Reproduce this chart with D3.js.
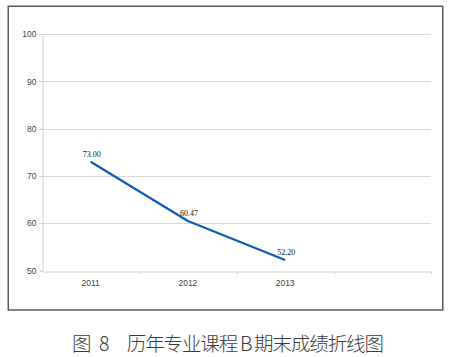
<!DOCTYPE html>
<html><head><meta charset="utf-8">
<script src="https://cdn.jsdelivr.net/npm/d3@7"></script>
<style>
html,body{margin:0;padding:0;background:#fff;}
svg{display:block;}
</style>
</head><body>
<svg id="chart" width="450" height="357"></svg>
<script>
const categories = ["2011", "2012", "2013", ""];
const scores = [73.00, 60.47, 52.20];
const yTicks = [50, 60, 70, 80, 90, 100];
const titleText = "图\u20028\u3000历年专业课程\u2009B\u2009期末成绩折线图";

const svg = d3.select("#chart");
const margin = {left: 42, right: 431, top: 34, bottom: 270.5};

// outer frame
svg.append("rect")
  .attr("x", 8.25).attr("y", 6.25).attr("width", 434.5).attr("height", 303.75)
  .attr("fill", "none").attr("stroke", "#5a5a5a").attr("stroke-width", 1.5);

const x = d3.scaleBand().domain(categories.map((c, i) => i)).range([margin.left, margin.right]);
const y = d3.scaleLinear().domain([50, 100]).range([margin.bottom, margin.top]);

// gridlines
svg.append("g").selectAll("line").data(yTicks.filter(t => t > 50)).join("line")
  .attr("x1", margin.left - 3).attr("x2", margin.right)
  .attr("y1", d => Math.round(y(d)) + 0.5).attr("y2", d => Math.round(y(d)) + 0.5)
  .attr("stroke", "#d9d9d9").attr("stroke-width", 1);

// y axis
const yAxis = svg.append("g").attr("transform", `translate(${margin.left + 0.5},0)`)
  .call(d3.axisLeft(y).tickValues(yTicks).tickSize(3).tickPadding(3));
yAxis.select(".domain").attr("stroke", "#d0d0d0");
yAxis.selectAll(".tick line").attr("stroke", "#d0d0d0");
yAxis.selectAll("text").attr("fill", "#444").style("font-family", "'Liberation Sans', Arial, sans-serif").style("font-size", "8.5px");

// x axis
const xAxis = svg.append("g").attr("transform", `translate(0,${Math.round(margin.bottom) + 0.5})`)
  .call(d3.axisBottom(x).tickSize(0).tickPadding(8).tickFormat(i => categories[i]));
xAxis.select(".domain").attr("stroke", "#d0d0d0");
xAxis.selectAll("text").attr("fill", "#444").style("font-family", "'Liberation Sans', Arial, sans-serif").style("font-size", "8.5px");
// category boundary ticks
const bounds = categories.map((c, i) => x(i)).concat([x(categories.length - 1) + x.bandwidth()]);
xAxis.selectAll(".bt").data(bounds.slice(1)).join("line").attr("class", "bt")
  .attr("x1", d => Math.round(d) + 0.5).attr("x2", d => Math.round(d) + 0.5)
  .attr("y1", 0).attr("y2", 3).attr("stroke", "#d0d0d0");

// line
const cx = i => x(i) + x.bandwidth() / 2;
svg.append("path").datum(scores)
  .attr("d", d3.line().x((d, i) => cx(i)).y(d => y(d)))
  .attr("fill", "none").attr("stroke", "#0a5cb8").attr("stroke-width", 2.2)
  .attr("stroke-linejoin", "round");

// data labels
svg.append("g").selectAll("text").data(scores).join("text")
  .attr("x", (d, i) => cx(i) + 1).attr("y", d => y(d) - 5)
  .attr("text-anchor", "middle")
  .attr("fill", "#111")
  .style("font-family", "'Liberation Serif', 'DejaVu Serif', serif").style("font-size", "8px")
  .text(d => d.toFixed(2));

// title
svg.append("text")
  .attr("x", 72).attr("y", 350.5)
  .attr("textLength", 312).attr("lengthAdjust", "spacing")
  .attr("fill", "#3a3a3a")
  .style("font-family", "'Noto Sans CJK SC', 'Noto Sans', sans-serif").style("font-size", "19.5px")
  .style("font-weight", "300")
  .text(titleText);
</script>
</body></html>
